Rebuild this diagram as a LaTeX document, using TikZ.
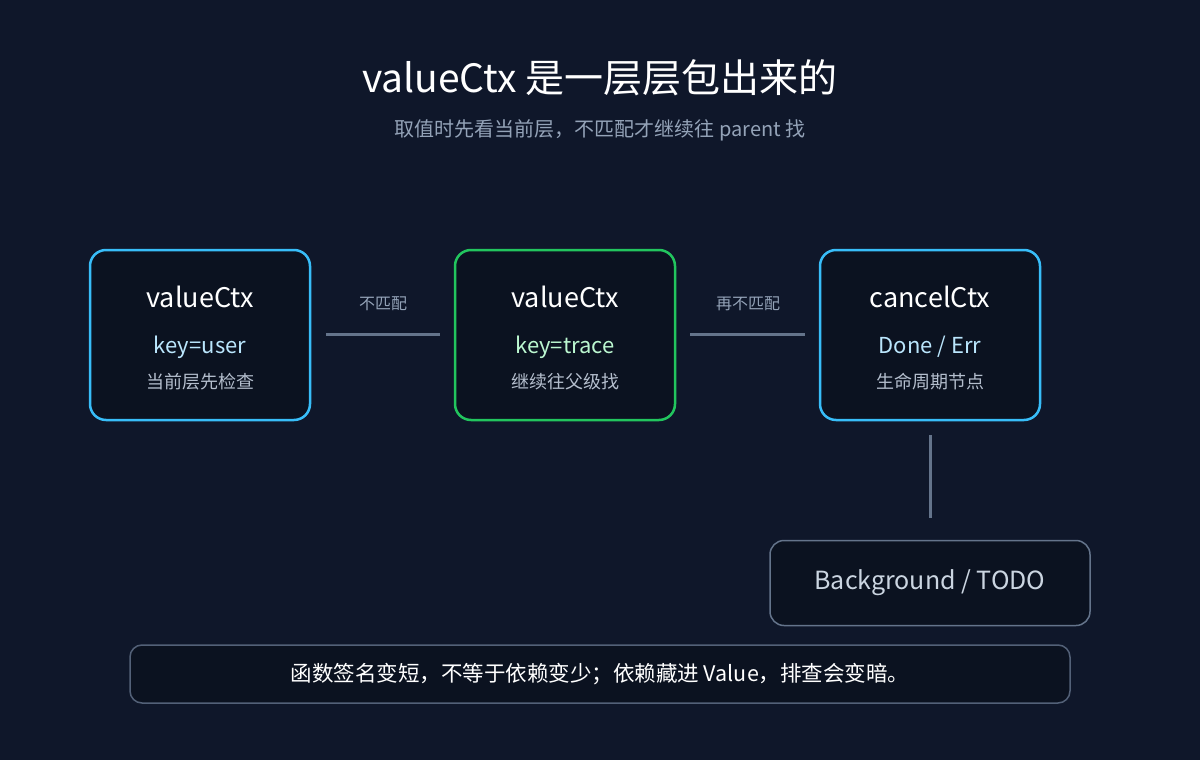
\documentclass[tikz,border=0pt]{standalone}
\usepackage{fontspec}
\setmainfont{Noto Sans CJK SC}
\usepackage{tikz}
\usetikzlibrary{positioning}
\definecolor{bgcol}{HTML}{0F172A}
\definecolor{boxfill}{HTML}{0B1220}
\definecolor{bluebd}{HTML}{38BDF8}
\definecolor{greenbd}{HTML}{22C55E}
\definecolor{linecol}{HTML}{64748B}
\definecolor{subcol}{HTML}{94A3B8}
\definecolor{bluekey}{HTML}{BAE6FD}
\definecolor{greenkey}{HTML}{BBF7D0}
\definecolor{paletxt}{HTML}{CBD5E1}
\tikzset{
  ctxbox/.style={draw=#1, line width=2.5pt, fill=boxfill, rounded corners=16pt,
    minimum width=220pt, minimum height=170pt},
  link/.style={draw=linecol, line width=3pt},
  lbl/.style={text=subcol, font=\fontsize{16}{19}\selectfont},
}
\begin{document}
\begin{tikzpicture}[x=1pt,y=-1pt]
% background
\fill[bgcol] (0,0) rectangle (1200,760);
\useasboundingbox (0,0) rectangle (1200,760);

% title
\node[text=white, font=\fontsize{39}{44}\selectfont] (title) at (600,78) {valueCtx 是一层层包出来的};
\node[text=subcol, font=\fontsize{20}{24}\selectfont] (sub) at (600,130) {取值时先看当前层，不匹配才继续往 parent 找};

% context boxes
\node[ctxbox=bluebd] (v1) at (200,335) {};
\node[ctxbox=greenbd] (v2) at (565,335) {};
\node[ctxbox=bluebd] (c3) at (930,335) {};

\foreach \n/\t/\k/\d/\kc in {v1/valueCtx/key=user/当前层先检查/bluekey,
  v2/valueCtx/key=trace/继续往父级找/greenkey,
  c3/cancelCtx/{Done / Err}/生命周期节点/bluekey}{
  \node[text=white, font=\fontsize{27}{32}\selectfont] at ([yshift=38pt]\n.center) {\t};
  \node[text=\kc, font=\fontsize{22}{26}\selectfont] at ([yshift=-12pt]\n.center) {\k};
  \node[text=subcol!70!white, font=\fontsize{18}{22}\selectfont] at ([yshift=-47pt]\n.center) {\d};
}

% links
\coordinate (a1) at (326,334);
\coordinate (a2) at (440,334);
\coordinate (b1) at (690,334);
\coordinate (b2) at (805,334);
\draw[link] (a1) -- (a2);
\draw[link] (b1) -- (b2);
\node[lbl] at (383,304) {不匹配};
\node[lbl] at (748,304) {再不匹配};

% background node
\node[draw=linecol, line width=1.5pt, fill=boxfill, rounded corners=14pt,
  minimum width=320pt, minimum height=85pt, text=paletxt,
  font=\fontsize{25}{30}\selectfont] (bg) at (930,583) {Background / TODO};
\coordinate (c3b) at (930,435);
\draw[link] (c3b) -- ([yshift=22pt]bg.north);

% bottom note
\node[draw=linecol!80!bgcol, line width=1.5pt, fill=boxfill, rounded corners=12pt,
  minimum width=940pt, minimum height=58pt, text=white,
  font=\fontsize{21.5}{26}\selectfont] (note) at (600,674) {函数签名变短，不等于依赖变少；依赖藏进 Value，排查会变暗。};
\end{tikzpicture}
\end{document}
